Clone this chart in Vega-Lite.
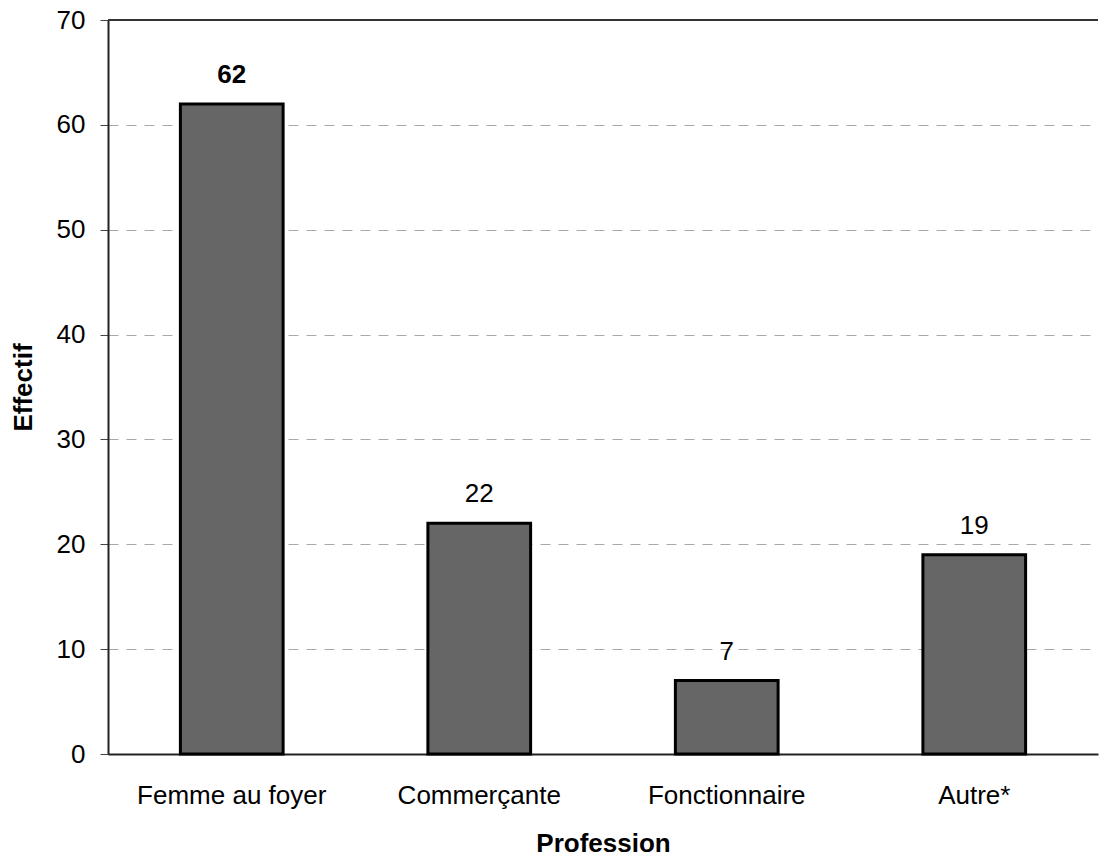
{
  "$schema": "https://vega.github.io/schema/vega-lite/v6.json",
  "width": 990,
  "height": 734,
  "autosize": {"type": "none"},
  "padding": {"left": 108, "top": 20, "right": 8, "bottom": 106},
  "background": "white",
  "config": {
    "view": {"stroke": null},
    "font": "Liberation Sans"
  },
  "data": {
    "values": [
      {"profession": "Femme au foyer", "effectif": 62, "bold": "bold"},
      {"profession": "Commerçante", "effectif": 22, "bold": "normal"},
      {"profession": "Fonctionnaire", "effectif": 7, "bold": "normal"},
      {"profession": "Autre*", "effectif": 19, "bold": "normal"}
    ]
  },
  "encoding": {
    "x": {
      "field": "profession",
      "type": "nominal",
      "sort": null,
      "scale": {"paddingInner": 0.585, "paddingOuter": 0.2925},
      "axis": {
        "title": "Profession",
        "titleFontSize": 26,
        "titleFontWeight": "bold",
        "titleColor": "black",
        "titlePadding": 22,
        "labelAngle": 0,
        "labelFontSize": 26,
        "labelLimit": 0,
        "labelColor": "black",
        "labelPadding": 28,
        "ticks": false,
        "domain": true,
        "domainColor": "#222",
        "domainWidth": 2,
        "grid": false
      }
    }
  },
  "layer": [
    {
      "mark": {"type": "bar", "fill": "#666666", "stroke": "black", "strokeWidth": 3},
      "encoding": {
        "y": {
          "field": "effectif",
          "type": "quantitative",
          "scale": {"domain": [0, 70], "nice": false},
          "axis": {
            "title": "Effectif",
            "titleFontSize": 26,
            "titleFontWeight": "bold",
            "titleColor": "black",
            "titlePadding": 20,
            "values": [0, 10, 20, 30, 40, 50, 60, 70],
            "labelFontSize": 26,
            "labelColor": "black",
            "labelPadding": 15,
            "tickSize": 8,
            "tickColor": "#444",
            "domainColor": "#222",
            "domainWidth": 2,
            "grid": true,
            "gridColor": "#a8a8a8",
            "gridDash": [10, 8],
            "gridWidth": 1
          }
        }
      }
    },
    {
      "mark": {"type": "rule", "color": "#333", "strokeWidth": 2},
      "data": {"values": [{"v": 70}]},
      "encoding": {
        "y": {"field": "v", "type": "quantitative"},
        "x": null
      }
    },
    {
      "transform": [{"filter": "datum.bold == 'bold'"}],
      "mark": {"type": "text", "fontSize": 26, "fontWeight": "bold", "baseline": "alphabetic", "dy": -21, "color": "black"},
      "encoding": {
        "y": {"field": "effectif", "type": "quantitative"},
        "text": {"field": "effectif", "type": "quantitative"}
      }
    },
    {
      "transform": [{"filter": "datum.bold != 'bold'"}],
      "mark": {"type": "text", "fontSize": 26, "baseline": "alphabetic", "dy": -21, "color": "black"},
      "encoding": {
        "y": {"field": "effectif", "type": "quantitative"},
        "text": {"field": "effectif", "type": "quantitative"}
      }
    }
  ]
}
